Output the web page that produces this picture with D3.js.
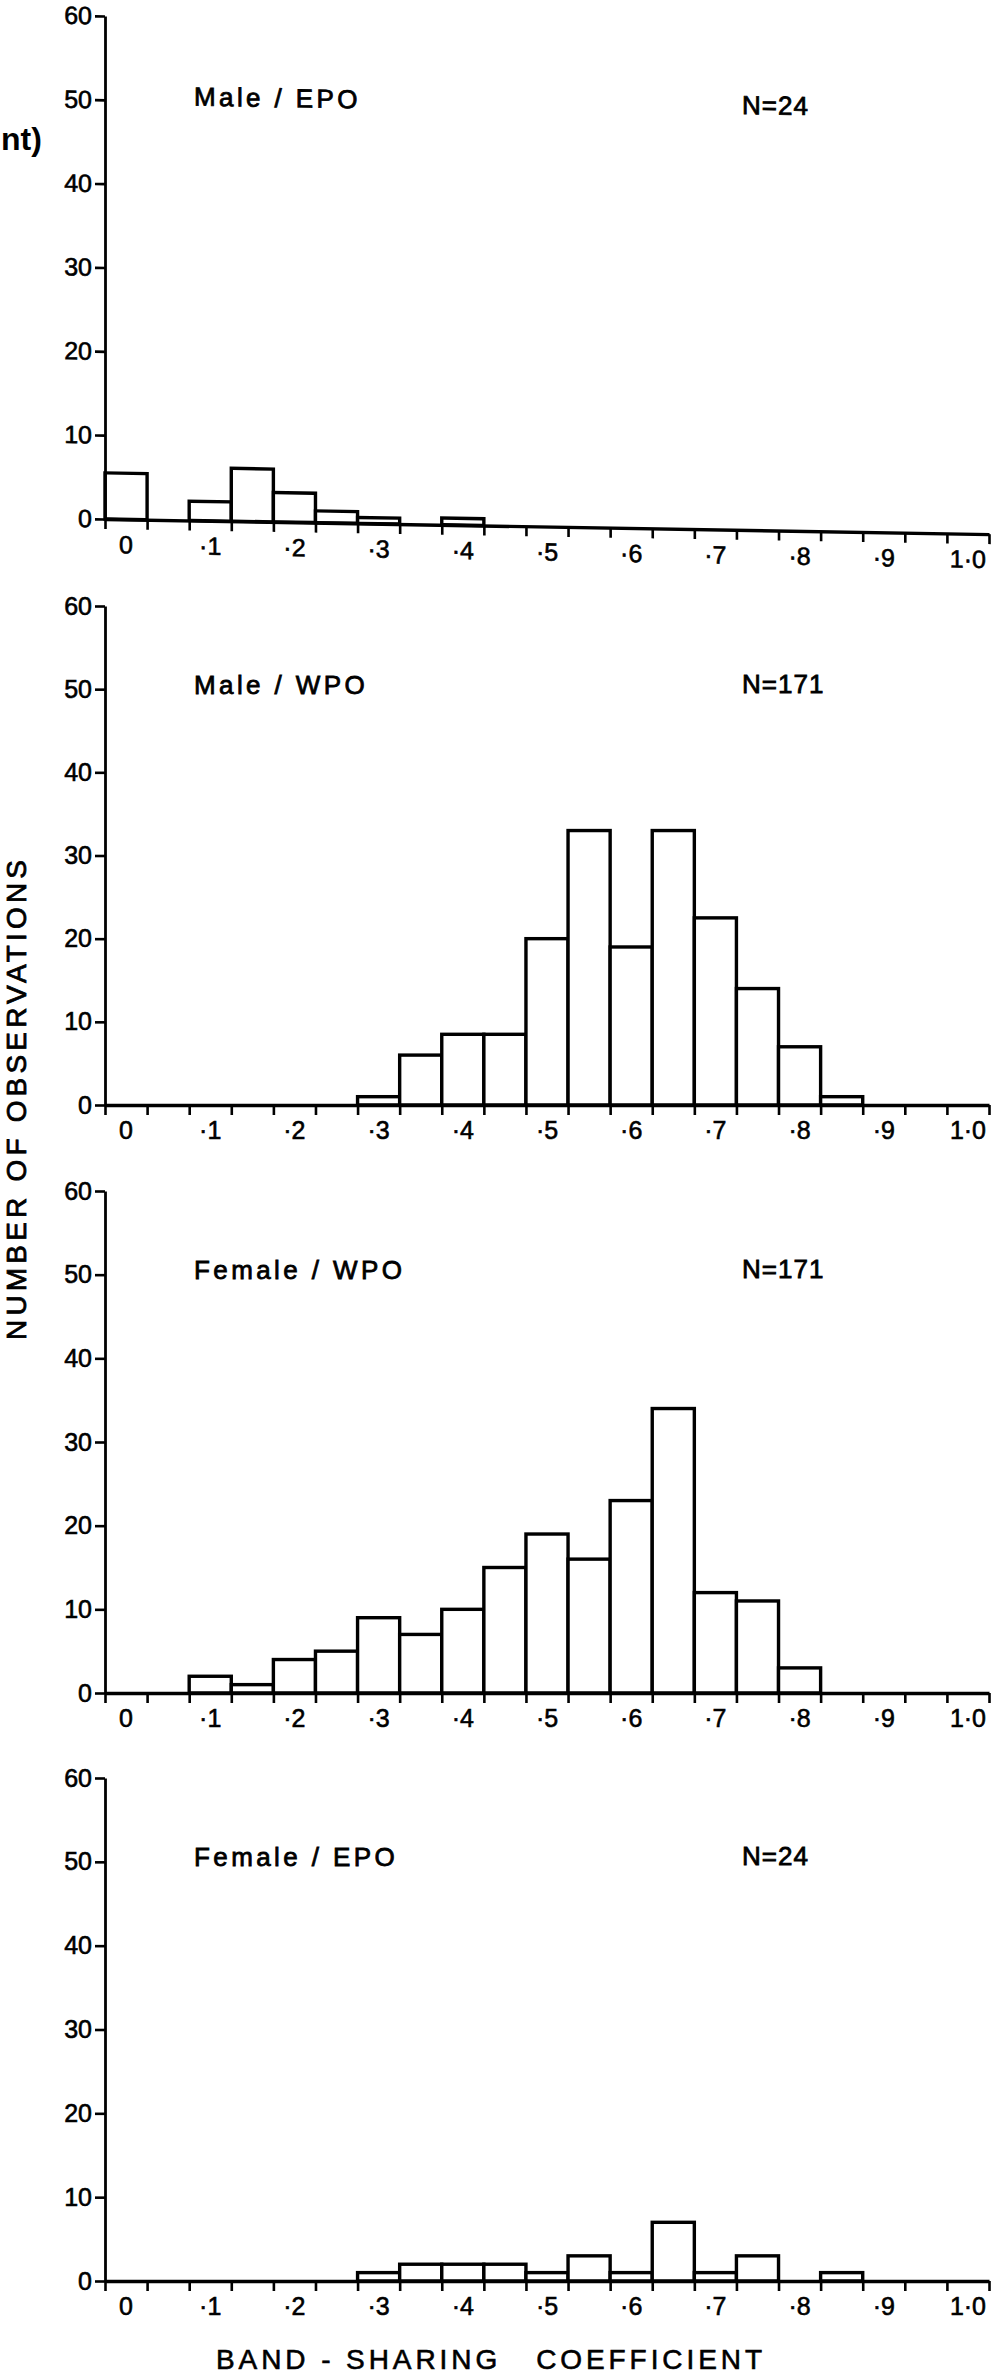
<!DOCTYPE html>
<html>
<head>
<meta charset="utf-8">
<script src="https://cdn.jsdelivr.net/npm/d3@7/dist/d3.min.js"></script>
<style>
  html, body { margin: 0; padding: 0; background: #fff; }
  svg { display: block; }
  text { font-family: "Liberation Sans", Arial, Helvetica, sans-serif; fill: #000; }
</style>
</head>
<body>
<script>
// Band-sharing coefficient bins (width 0.05), edges 0 … 1.05
const binEdges = [0, 0.05, 0.1, 0.15, 0.2, 0.25, 0.3, 0.35, 0.4, 0.45, 0.5,
                  0.55, 0.6, 0.65, 0.7, 0.75, 0.8, 0.85, 0.9, 0.95, 1.0, 1.05];
const xLabelValues = [0, 0.1, 0.2, 0.3, 0.4, 0.5, 0.6, 0.7, 0.8, 0.9, 1.0];
const xTickLabels  = ["0", "·1", "·2", "·3", "·4", "·5", "·6", "·7", "·8", "·9", "1·0"];
const yTicks = [0, 10, 20, 30, 40, 50, 60];

const panelNames = ["Male / EPO", "Male / WPO", "Female / WPO", "Female / EPO"];
const panelN     = ["N=24", "N=171", "N=171", "N=24"];

// Number of observations per bin (21 bins each)
const maleEPO   = [5.5, 0, 2.3, 6.3, 3.5, 1.4, 0.7, 0, 0.8, 0, 0, 0, 0, 0, 0, 0, 0, 0, 0, 0, 0];
const maleWPO   = [0, 0, 0, 0, 0, 0, 1, 6, 8.5, 8.5, 20, 33, 19, 33, 22.5, 14, 7, 1, 0, 0, 0];
const femaleWPO = [0, 0, 2, 1, 4, 5, 9, 7, 10, 15, 19, 16, 23, 34, 12, 11, 3, 0, 0, 0, 0];
const femaleEPO = [0, 0, 0, 0, 0, 0, 1, 2, 2, 2, 1, 3, 1, 7, 1, 3, 0, 1, 0, 0, 0];

const series = [maleEPO, maleWPO, femaleWPO, femaleEPO];

const W = 994, H = 2377;
const svg = d3.select("body").append("svg").attr("width", W).attr("height", H);

const x = d3.scaleLinear().domain([0, 1.05]).range([105, 989]);

// vertical placement of each histogram (value 60 at top, 0 at bottom)
const frames = [
  { top: 16,   bottom: 519,  skew: 0.98 },
  { top: 606,  bottom: 1105, skew: 0 },
  { top: 1191, bottom: 1693, skew: 0 },
  { top: 1778, bottom: 2281, skew: 0 }
];

frames.forEach((f, p) => {
  const values = series[p];
  const y = d3.scaleLinear().domain([0, 60]).range([f.bottom, f.top]);
  const x0 = x(0);
  const g = svg.append("g")
    .attr("transform", f.skew ? `translate(${x0},0) skewY(${f.skew}) translate(${-x0},0)` : null);

  // histogram bars
  const bins = values.map((v, i) => ({ lo: binEdges[i], hi: binEdges[i + 1], v }))
                     .filter(d => d.v > 0);
  g.append("g").selectAll("rect").data(bins).join("rect")
    .attr("x", d => x(d.lo))
    .attr("width", d => x(d.hi) - x(d.lo))
    .attr("y", d => y(d.v))
    .attr("height", d => y(0) - y(d.v))
    .attr("fill", "#fff")
    .attr("stroke", "#000")
    .attr("stroke-width", 3.4)
    .attr("stroke-linejoin", "miter");

  // x axis with a tick at every bin edge
  const xa = g.append("g").attr("transform", `translate(0,${y(0)})`)
    .call(d3.axisBottom(x).tickValues(binEdges).tickSize(10).tickSizeOuter(0).tickFormat(""));
  xa.select(".domain").attr("stroke-width", 3.4);
  xa.selectAll(".tick line").attr("stroke-width", 2.6);

  g.append("g").selectAll("text").data(xLabelValues).join("text")
    .attr("x", d => x(d + 0.025))
    .attr("y", y(0) + 34)
    .attr("text-anchor", "middle")
    .attr("font-size", 25)
    .attr("stroke", "#000").attr("stroke-width", 0.6)
    .text((d, i) => xTickLabels[i]);

  // y axis
  const ya = g.append("g").attr("transform", `translate(${x0},0)`)
    .call(d3.axisLeft(y).tickValues(yTicks).tickSize(10).tickSizeOuter(0).tickPadding(3));
  ya.select(".domain").attr("stroke-width", 2.8);
  ya.selectAll(".tick line").attr("stroke-width", 2.6);
  ya.selectAll(".tick text")
    .attr("font-size", 25)
    .attr("font-family", "\"Liberation Sans\", Arial, sans-serif")
    .attr("stroke", "#000").attr("stroke-width", 0.6);

  // panel captions
  g.append("text")
    .attr("x", 194).attr("y", f.top + 88)
    .attr("font-size", 26)
    .attr("letter-spacing", 3.4)
    .attr("stroke", "#000").attr("stroke-width", 0.8)
    .text(panelNames[p]);
  g.append("text")
    .attr("x", 742).attr("y", f.top + 87)
    .attr("font-size", 26)
    .attr("letter-spacing", 1)
    .attr("stroke", "#000").attr("stroke-width", 0.8)
    .text(panelN[p]);
});

// shared axis titles
svg.append("text")
  .attr("transform", "translate(26,1100) rotate(-90)")
  .attr("text-anchor", "middle")
  .attr("font-size", 28)
  .attr("textLength", 480).attr("lengthAdjust", "spacing")
  .attr("stroke", "#000").attr("stroke-width", 0.8)
  .text("NUMBER OF OBSERVATIONS");

svg.append("text")
  .attr("x", 216).attr("y", 2369)
  .attr("font-size", 28)
  .attr("textLength", 546).attr("lengthAdjust", "spacing")
  .style("white-space", "pre")
  .attr("stroke", "#000").attr("stroke-width", 0.6)
  .text("BAND - SHARING   COEFFICIENT");

// tail of a caption running in from the left margin
svg.append("text")
  .attr("x", 1).attr("y", 150)
  .attr("font-family", "\"Liberation Serif\", \"Times New Roman\", serif")
  .attr("font-weight", "bold")
  .attr("font-size", 32)
  .text("nt)");
</script>
</body>
</html>
